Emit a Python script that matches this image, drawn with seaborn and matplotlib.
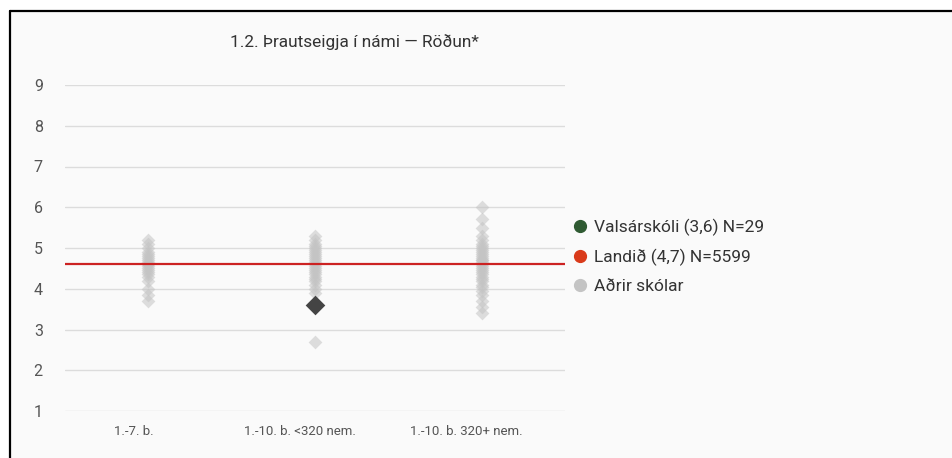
"""Þrautseigja í námi - röðun skóla eftir skólagerð."""

import matplotlib

matplotlib.use("Agg")
import matplotlib.pyplot as plt
import matplotlib.transforms as mtransforms
import pandas as pd
import seaborn as sns
from matplotlib.lines import Line2D
from matplotlib.patches import Rectangle

CATEGORIES = ["1.-7. b.", "1.-10. b. <320 nem.", "1.-10. b. 320+ nem."]

OTHER_SMALL = [3.7, 3.85, 4.0, 4.2, 4.3, 4.35, 4.4, 4.45, 4.5, 4.55, 4.6,
               4.6, 4.65, 4.7, 4.75, 4.8, 4.85, 4.9, 5.0, 5.1, 5.2]
OTHER_MID = [2.7, 3.9, 4.0, 4.1, 4.2, 4.25, 4.3, 4.35, 4.4, 4.45, 4.5, 4.55,
             4.6, 4.65, 4.7, 4.75, 4.8, 4.85, 4.9, 4.95, 5.0, 5.05, 5.1,
             5.2, 5.3]
OTHER_LARGE = [3.4, 3.55, 3.7, 3.85, 3.95, 4.05, 4.1, 4.2, 4.25, 4.3, 4.35,
               4.4, 4.45, 4.5, 4.55, 4.6, 4.65, 4.7, 4.7, 4.75, 4.8, 4.85,
               4.9, 4.95, 5.0, 5.05, 5.1, 5.2, 5.3, 5.5, 5.7, 6.0]

SCHOOL_CATEGORY = "1.-10. b. <320 nem."
SCHOOL_VALUE = 3.6
NATIONAL_VALUE = 4.61

LEGEND_LABELS = ["Valsárskóli (3,6) N=29", "Landið (4,7) N=5599", "Aðrir skólar"]
TITLE = "1.2. Þrautseigja í námi — Röðun*"

sns.set_theme(style="white")
plt.rcParams["font.family"] = ["Roboto", "DejaVu Sans"]

others = pd.DataFrame(
    {
        "category": [CATEGORIES[0]] * len(OTHER_SMALL)
        + [CATEGORIES[1]] * len(OTHER_MID)
        + [CATEGORIES[2]] * len(OTHER_LARGE),
        "value": OTHER_SMALL + OTHER_MID + OTHER_LARGE,
    }
)
school = pd.DataFrame({"category": [SCHOOL_CATEGORY], "value": [SCHOOL_VALUE]})

fig = plt.figure(figsize=(9.52, 4.58), dpi=100)
fig.patch.set_facecolor("white")
fig.add_artist(Rectangle((10 / 952, 0), 1, 1 - 11 / 458, transform=fig.transFigure,
                         facecolor="#fafafa", edgecolor="none", zorder=-5))
fig.add_artist(Line2D([10 / 952, 1], [1 - 11 / 458] * 2, color="black", lw=1.6))
fig.add_artist(Line2D([10 / 952] * 2, [0, 1 - 11 / 458], color="black", lw=1.6))

ax = fig.add_axes([65 / 952, 1 - 411 / 458, 500 / 952, 326 / 458])
ax.set_facecolor("#fafafa")

sns.stripplot(data=others, x="category", y="value", order=CATEGORIES,
              jitter=False, marker="D", size=7, color="#c4c4c4", alpha=0.55,
              linewidth=0, ax=ax, zorder=3)
ax.axhline(NATIONAL_VALUE, color="#cc2222", lw=1.6, zorder=4)
sns.stripplot(data=school, x="category", y="value", order=CATEGORIES,
              jitter=False, marker="D", size=10, color="#444444",
              linewidth=0, ax=ax, zorder=5)

ax.set_ylim(1, 9)
ax.set_yticks(range(1, 10))
ax.grid(axis="y", color="#dcdcdc", lw=1)
ax.set_axisbelow(True)
for spine in ax.spines.values():
    spine.set_visible(False)
ax.tick_params(axis="y", length=0, pad=16, labelsize=11.5, labelcolor="#555555")
ax.tick_params(axis="x", length=0, pad=10, labelsize=9.5, labelcolor="#555555")
ax.set_xlabel("")
ax.set_ylabel("")
for label in ax.get_yticklabels():
    label.set_horizontalalignment("right")
# category labels sit a little left of their columns in the original
shift = mtransforms.ScaledTranslation(-0.15, 0, fig.dpi_scale_trans)
for label in ax.get_xticklabels():
    label.set_transform(label.get_transform() + shift)

fig.text(354 / 952, 1 - 42 / 458, TITLE, ha="center", va="center",
         fontsize=12.4, color="#333333")

handles = [
    Line2D([], [], marker="o", ls="", color="#2f5a32", markersize=8.5),
    Line2D([], [], marker="o", ls="", color="#d93a1a", markersize=8.5),
    Line2D([], [], marker="o", ls="", color="#c4c4c4", markersize=8.5),
]
fig.legend(handles, LEGEND_LABELS, loc="upper left",
           bbox_to_anchor=(551 / 952, 1 - 203 / 458), frameon=False,
           fontsize=12.5, labelcolor="#333333", handletextpad=0.1,
           labelspacing=0.75, handlelength=1.5)

fig.savefig("out.png", dpi=100, facecolor=fig.get_facecolor())
